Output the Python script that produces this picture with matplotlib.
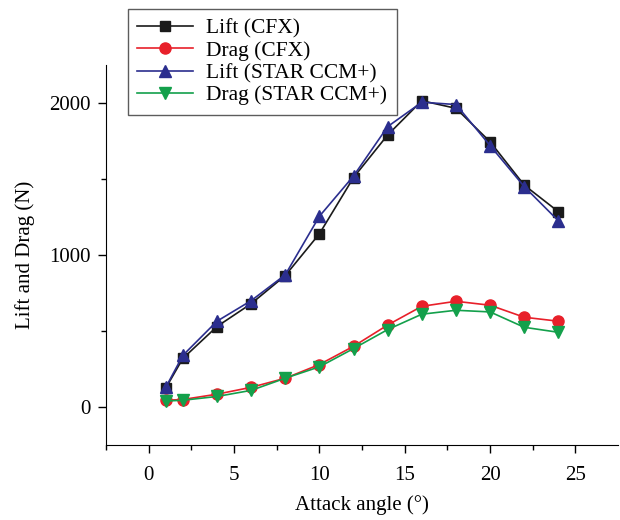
import numpy as np
from matplotlib import pyplot as plt

plt.rcParams['font.family'] = ['Liberation Serif', 'DejaVu Serif']
plt.rcParams['font.size'] = 15

angle = [1, 2, 4, 6, 8, 10, 12, 14, 16, 18, 20, 22, 24]
lift_cfx = [125, 320, 530, 680, 865, 1140, 1510, 1790, 2015, 1965, 1745, 1460, 1285]
drag_cfx = [45, 50, 85, 130, 190, 280, 400, 540, 663, 696, 670, 591, 565]
lift_star = [130, 340, 565, 700, 870, 1255, 1520, 1845, 2005, 1990, 1720, 1450, 1225]
drag_star = [40, 45, 70, 110, 190, 265, 385, 510, 611, 637, 626, 525, 492]

fig = plt.figure(figsize=(6.2, 5.2), dpi=100)
ax = fig.add_axes([0.171, 0.144, 0.826, 0.731])

ms = 7.5
ax.plot(angle, lift_cfx, color='#1a1a1a', marker='s', ms=ms, lw=1.2, label='Lift (CFX)')
ax.plot(angle, drag_cfx, color='#e8202a', marker='o', ms=ms + 0.5, lw=1.2, label='Drag (CFX)')
ax.plot(angle, lift_star, color='#2b2e8e', marker='^', ms=ms + 1.5, lw=1.2, label='Lift (STAR CCM+)')
ax.plot(angle, drag_star, color='#13a04b', marker='v', ms=ms + 1.5, lw=1.2, label='Drag (STAR CCM+)')

ax.set_xlim(-2.5, 27.5)
ax.set_ylim(-250, 2250)
ax.set_xticks([0, 5, 10, 15, 20, 25])
ax.set_xticks(np.arange(-2.5, 27.5, 5), minor=True)
ax.set_yticks([0, 1000, 2000])
ax.set_yticks([500, 1500], minor=True)
ax.tick_params(which='major', direction='out', length=6, width=1)
ax.tick_params(which='minor', direction='out', length=3.5, width=1)
ax.tick_params(axis='x', which='major', pad=9)
ax.tick_params(axis='y', which='major', pad=5)
ax.spines['top'].set_visible(False)
ax.spines['right'].set_visible(False)

ax.set_xlabel('Attack angle (°)', labelpad=7)
ax.set_ylabel('Lift and Drag (N)', labelpad=10)

leg = fig.legend(loc='upper left', bbox_to_anchor=(0.206, 0.983), frameon=True,
                 fancybox=False, edgecolor='#333333', handlelength=2.6,
                 borderpad=0.45, labelspacing=0.1, handletextpad=0.6,
                 borderaxespad=0, fontsize=15.5)
leg.get_frame().set_linewidth(1.0)

fig.savefig('out.png', dpi=100)
